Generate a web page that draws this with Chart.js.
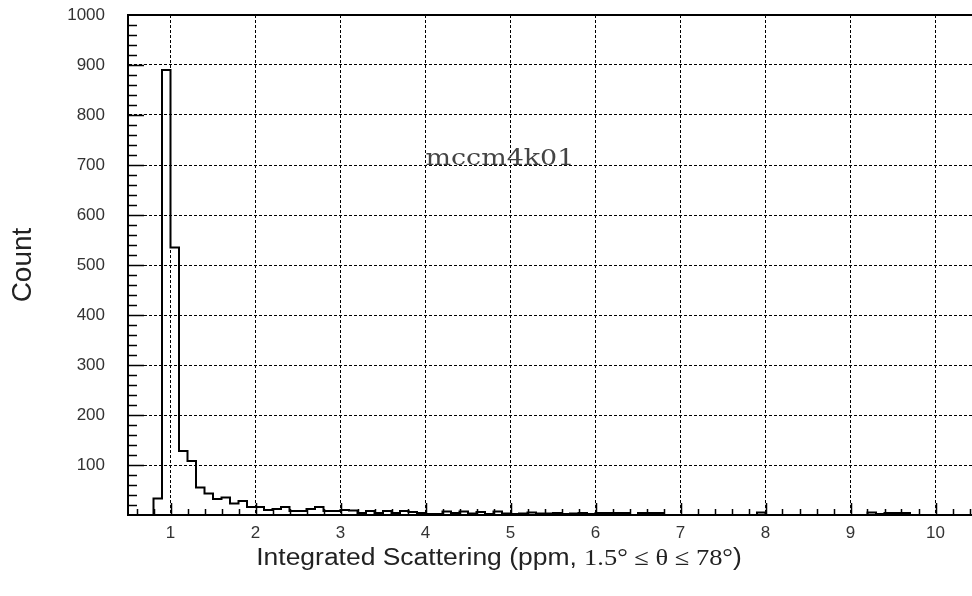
<!DOCTYPE html>
<html>
<head>
<meta charset="utf-8">
<script src="https://cdn.jsdelivr.net/npm/chart.js@4"></script>
<style>
  html, body { margin: 0; padding: 0; background: #fff; overflow: hidden; }
  #wrap { position: relative; width: 990px; height: 596px; }
</style>
</head>
<body>
<div id="wrap"><canvas id="histChart"></canvas></div>
<script>
// histogram bins: 0.1 wide, starting at 0.5
const binStart = 0.5;
const binWidth = 0.1;
const counts = [
    0, 0, 0, 33, 890, 535, 128, 108, 55, 43,     // 0.5 - 1.4
    32, 35, 23, 28, 16, 16, 10, 12, 16, 8,       // 1.5 - 2.4
    8, 12, 16, 8, 8, 10, 9, 4, 8, 4,             // 2.5 - 3.4
    8, 4, 8, 6, 4, 2, 2, 7, 4, 7,                // 3.5 - 4.4
    3, 6, 2, 7, 3, 2, 3, 5, 3, 3,                // 4.5 - 5.4
    4, 2, 3, 4, 2, 4, 4, 4, 4, 0,                // 5.5 - 6.4
    4, 4, 4, 0, 0, 0, 0, 0, 0, 0,                // 6.5 - 7.4
    0, 0, 0, 0, 5, 0, 0, 0, 0, 0,                // 7.5 - 8.4
    0, 0, 0, 0, 0, 0, 0, 5, 2, 4,                // 8.5 - 9.4
    4, 4, 0, 0, 0, 0, 0, 0, 0, 0                 // 9.5 - 10.4
];
const xTicks = [1, 2, 3, 4, 5, 6, 7, 8, 9, 10];
const yTicks = [100, 200, 300, 400, 500, 600, 700, 800, 900, 1000];
const runLabel = 'mccm4k01';
const xTitleParts = ['Integrated Scattering (ppm, ', '1.5\u00b0 \u2264 \u03b8 \u2264 78\u00b0', ')'];

// step outline: one point per bin left edge, plus closing edge
const histPoints = counts.map((c, i) => ({ x: binStart + i * binWidth, y: c }));
histPoints.push({ x: binStart + counts.length * binWidth, y: 0 });

// inward tick marks, top frame, run label and mixed-font x title
const framePlugin = {
    id: 'frame',
    afterDraw(chart) {
        const ctx = chart.ctx;
        const xs = chart.scales.x;
        const ys = chart.scales.y;
        const area = chart.chartArea;
        ctx.save();
        ctx.strokeStyle = '#000';
        ctx.lineWidth = 1.5;
        ctx.beginPath();
        for (let k = 1; k < 50; k++) {
            const v = k * 20;
            const py = Math.round(ys.getPixelForValue(v)) + 0.5;
            const len = (v % 100 === 0) ? 16 : 9;
            ctx.moveTo(area.left, py);
            ctx.lineTo(area.left + len, py);
        }
        for (let k = 3; k <= 52; k++) {
            const v = k / 5;
            const px = Math.round(xs.getPixelForValue(v)) + 0.5;
            const len = (k % 5 === 0) ? 12 : 6;
            ctx.moveTo(px, area.bottom);
            ctx.lineTo(px, area.bottom - len);
        }
        ctx.stroke();

        // top frame line
        ctx.lineWidth = 2;
        ctx.beginPath();
        ctx.moveTo(area.left - 1, area.top);
        ctx.lineTo(area.right, area.top);
        ctx.stroke();

        // run label, anchored at (4, 700)
        ctx.save();
        ctx.translate(xs.getPixelForValue(4), ys.getPixelForValue(700));
        ctx.scale(1.17, 1);
        ctx.font = '23px "DejaVu Serif"';
        ctx.fillStyle = '#444';
        ctx.textAlign = 'left';
        ctx.textBaseline = 'alphabetic';
        ctx.fillText(runLabel, 0, 0);
        ctx.restore();

        // x axis title
        const fonts = ['23px "Liberation Sans"', '23px "Liberation Serif"', '23px "Liberation Sans"'];
        let total = 0;
        const widths = xTitleParts.map((t, i) => {
            ctx.font = fonts[i];
            const w = ctx.measureText(t).width;
            total += w;
            return w;
        });
        ctx.save();
        ctx.translate(499, 565);
        ctx.scale(1.15, 1);
        ctx.fillStyle = '#222';
        ctx.textAlign = 'left';
        ctx.textBaseline = 'alphabetic';
        let cx = -total / 2;
        xTitleParts.forEach((t, i) => {
            ctx.font = fonts[i];
            ctx.fillText(t, cx, 0);
            cx += widths[i];
        });
        ctx.restore();
        ctx.restore();
    }
};

const ctxHist = document.getElementById('histChart');

new Chart(ctxHist, {
    type: 'line',
    data: {
        datasets: [{
            label: runLabel,
            data: histPoints,
            stepped: true,
            borderColor: '#000',
            borderWidth: 2,
            pointRadius: 0,
            fill: false
        }]
    },
    options: {
        responsive: true,
        maintainAspectRatio: false,
        animation: false,
        layout: {
            padding: { left: 0, top: 15, right: 12, bottom: 0 }
        },
        plugins: {
            legend: { display: false },
            tooltip: { enabled: false }
        },
        scales: {
            x: {
                type: 'linear',
                min: 0.5,
                max: 10.5,
                afterBuildTicks: (scale) => { scale.ticks = xTicks.map(v => ({ value: v })); },
                afterFit: (scale) => {
                    scale.height = 81;
                    scale.paddingLeft = 0;
                    scale.paddingRight = 0;
                },
                grid: { color: '#000', lineWidth: 1, drawTicks: false },
                border: { color: '#000', width: 2, dash: [3, 2] },
                ticks: {
                    color: '#333',
                    padding: 8,
                    maxRotation: 0,
                    callback: (v) => String(v),
                    font: { family: 'Liberation Sans', size: 17 }
                }
            },
            y: {
                min: 0,
                max: 1000,
                afterBuildTicks: (scale) => { scale.ticks = yTicks.map(v => ({ value: v })); },
                afterFit: (scale) => {
                    scale.width = 128;
                    scale.paddingTop = 0;
                    scale.paddingBottom = 0;
                },
                grid: { color: '#000', lineWidth: 1, drawTicks: false },
                border: { color: '#000', width: 2, dash: [3, 2] },
                ticks: {
                    color: '#333',
                    padding: 23,
                    callback: (v) => String(v),
                    font: { family: 'Liberation Sans', size: 17 }
                },
                title: {
                    display: true,
                    text: 'Count',
                    color: '#222',
                    padding: { top: 6, bottom: 0 },
                    font: { family: 'Liberation Sans', size: 28 }
                }
            }
        }
    },
    plugins: [framePlugin]
});
</script>
</body>
</html>
